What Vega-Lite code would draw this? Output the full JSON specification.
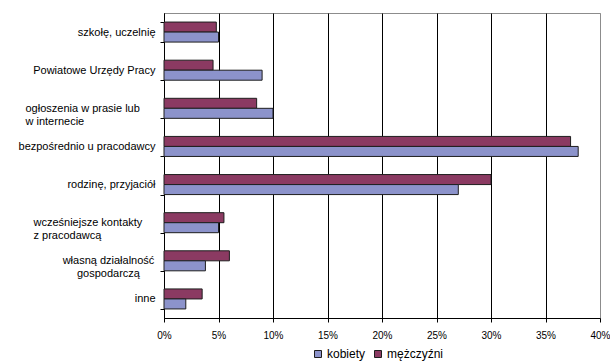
{
  "$schema": "https://vega.github.io/schema/vega-lite/v6.json",
  "width": 436,
  "height": 305,
  "autosize": {"type": "none"},
  "padding": {"left": 164, "top": 13, "right": 10, "bottom": 45},
  "background": "white",
  "config": {
    "font": "Liberation Sans",
    "view": {"stroke": "#8c8c8c", "strokeWidth": 1}
  },
  "data": {
    "values": [
      {"kanal": "szkołę, uczelnię", "plec": "mężczyźni", "udzial": 4.8},
      {"kanal": "szkołę, uczelnię", "plec": "kobiety", "udzial": 5.0},
      {"kanal": "Powiatowe Urzędy Pracy", "plec": "mężczyźni", "udzial": 4.5},
      {"kanal": "Powiatowe Urzędy Pracy", "plec": "kobiety", "udzial": 9.0},
      {"kanal": "ogłoszenia w prasie lub|w internecie", "plec": "mężczyźni", "udzial": 8.5},
      {"kanal": "ogłoszenia w prasie lub|w internecie", "plec": "kobiety", "udzial": 10.0},
      {"kanal": "bezpośrednio u pracodawcy", "plec": "mężczyźni", "udzial": 37.3},
      {"kanal": "bezpośrednio u pracodawcy", "plec": "kobiety", "udzial": 38.0},
      {"kanal": "rodzinę, przyjaciół", "plec": "mężczyźni", "udzial": 30.0},
      {"kanal": "rodzinę, przyjaciół", "plec": "kobiety", "udzial": 27.0},
      {"kanal": "wcześniejsze kontakty|z pracodawcą", "plec": "mężczyźni", "udzial": 5.5},
      {"kanal": "wcześniejsze kontakty|z pracodawcą", "plec": "kobiety", "udzial": 5.0},
      {"kanal": "własną działalność|gospodarczą", "plec": "mężczyźni", "udzial": 6.0},
      {"kanal": "własną działalność|gospodarczą", "plec": "kobiety", "udzial": 3.8},
      {"kanal": "inne", "plec": "mężczyźni", "udzial": 3.5},
      {"kanal": "inne", "plec": "kobiety", "udzial": 2.0}
    ]
  },
  "mark": {"type": "bar", "stroke": "#1e1e1e", "strokeWidth": 1},
  "encoding": {
    "y": {
      "field": "kanal",
      "type": "nominal",
      "sort": null,
      "scale": {"paddingInner": 0.475, "paddingOuter": 0.2375},
      "axis": {
        "title": null,
        "tickBand": "extent",
        "domainColor": "black",
        "tickColor": "black",
        "tickSize": 4,
        "labelFont": "Liberation Sans",
        "labelFontSize": 11,
        "labelColor": "black",
        "labelLineHeight": 13,
        "labelLimit": 170,
        "labelExpr": "isString(datum.value) ? split(datum.value, '|') : ''",
        "labelAlign": {
          "condition": [
            {"test": "datum.value == 'ogłoszenia w prasie lub|w internecie' || datum.value == 'wcześniejsze kontakty|z pracodawcą'", "value": "left"},
            {"test": "datum.value == 'własną działalność|gospodarczą'", "value": "center"}
          ],
          "value": "right"
        },
        "labelPadding": {
          "condition": [
            {"test": "datum.value == 'ogłoszenia w prasie lub|w internecie'", "value": 135},
            {"test": "datum.value == 'wcześniejsze kontakty|z pracodawcą'", "value": 127},
            {"test": "datum.value == 'własną działalność|gospodarczą'", "value": 52}
          ],
          "value": 5
        }
      }
    },
    "yOffset": {
      "field": "plec",
      "type": "nominal",
      "scale": {"domain": ["mężczyźni", "kobiety"], "paddingInner": 0, "paddingOuter": 0}
    },
    "x": {
      "field": "udzial",
      "type": "quantitative",
      "scale": {"domain": [0, 40], "nice": false},
      "axis": {
        "title": null,
        "values": [0, 5, 10, 15, 20, 25, 30, 35, 40],
        "labelExpr": "datum.value + '%'",
        "labelFlush": false,
        "labelFont": "Liberation Sans",
        "labelFontSize": 10,
        "labelColor": "black",
        "labelPadding": 8,
        "tickSize": 4,
        "tickColor": "black",
        "domainColor": "black",
        "grid": true,
        "gridColor": {"condition": {"test": "datum.value == 40", "value": "#8c8c8c"}, "value": "black"},
        "gridOpacity": 1,
        "gridWidth": 1
      }
    },
    "color": {
      "field": "plec",
      "type": "nominal",
      "scale": {"domain": ["kobiety", "mężczyźni"], "range": ["#8c93cb", "#8b3a62"]},
      "legend": {
        "title": null,
        "orient": "none",
        "direction": "horizontal",
        "legendX": 148,
        "legendY": 335,
        "symbolType": "square",
        "symbolSize": 49,
        "symbolStrokeColor": "#1e1e1e",
        "symbolStrokeWidth": 1,
        "labelFont": "Liberation Sans",
        "labelFontSize": 12,
        "labelColor": "black",
        "labelOffset": 3,
        "columnPadding": 6,
        "padding": 0
      }
    }
  }
}
